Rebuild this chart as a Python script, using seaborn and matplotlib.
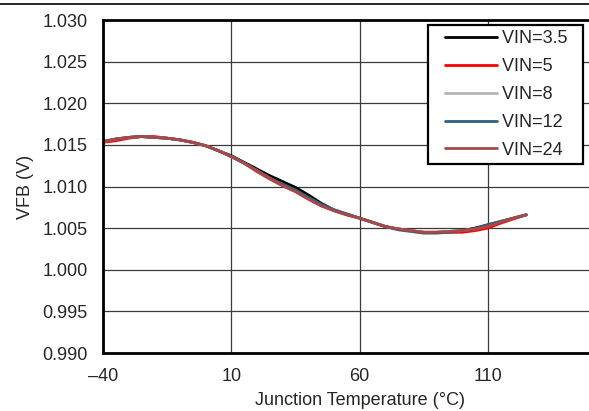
import seaborn as sns
import matplotlib.pyplot as plt
import pandas as pd
from matplotlib.lines import Line2D
from matplotlib.legend_handler import HandlerLine2D

# junction temperature (C)
temps = [-40, -35, -30, -25, -20, -15, -10, -5, 0, 5, 10, 15, 20, 25, 30, 35, 40, 45,
         50, 55, 60, 65, 70, 75, 80, 85, 90, 95, 100, 105, 110, 115, 120, 125]

# VFB (V) per input voltage
vin_3p5 = [1.0154, 1.0157, 1.0159, 1.0160, 1.0159, 1.0158, 1.0156, 1.0153, 1.0149, 1.0143,
           1.0137, 1.0129, 1.0121, 1.0113, 1.0106, 1.0099, 1.0090, 1.0080, 1.0072, 1.0067,
           1.0062, 1.0057, 1.0052, 1.0049, 1.0047, 1.0045, 1.0045, 1.0046, 1.0047, 1.0050,
           1.0054, 1.0058, 1.0062, 1.0066]
vin_5 = [1.0153, 1.0155, 1.0158, 1.0160, 1.0160, 1.0158, 1.0156, 1.0153, 1.0149, 1.0143,
         1.0136, 1.0128, 1.0118, 1.0109, 1.0101, 1.0094, 1.0085, 1.0077, 1.0071, 1.0066,
         1.0062, 1.0057, 1.0052, 1.0049, 1.0047, 1.0045, 1.0045, 1.0045, 1.0045, 1.0047,
         1.0050, 1.0056, 1.0061, 1.0066]
vin_8 = [1.0154, 1.0157, 1.0159, 1.0160, 1.0159, 1.0158, 1.0156, 1.0153, 1.0149, 1.0143,
         1.0136, 1.0128, 1.0119, 1.0110, 1.0102, 1.0095, 1.0086, 1.0078, 1.0072, 1.0067,
         1.0062, 1.0057, 1.0052, 1.0049, 1.0047, 1.0045, 1.0045, 1.0046, 1.0047, 1.0049,
         1.0053, 1.0058, 1.0062, 1.0066]
vin_12 = [1.0154, 1.0157, 1.0159, 1.0160, 1.0159, 1.0158, 1.0156, 1.0153, 1.0149, 1.0143,
          1.0136, 1.0128, 1.0119, 1.0110, 1.0103, 1.0096, 1.0087, 1.0079, 1.0072, 1.0067,
          1.0062, 1.0057, 1.0052, 1.0048, 1.0046, 1.0044, 1.0044, 1.0045, 1.0047, 1.0049,
          1.0054, 1.0058, 1.0062, 1.0066]
vin_24 = [1.0154, 1.0157, 1.0159, 1.0160, 1.0159, 1.0158, 1.0156, 1.0153, 1.0149, 1.0143,
          1.0136, 1.0128, 1.0119, 1.0110, 1.0101, 1.0094, 1.0085, 1.0077, 1.0071, 1.0066,
          1.0062, 1.0057, 1.0052, 1.0049, 1.0047, 1.0045, 1.0045, 1.0046, 1.0047, 1.0049,
          1.0052, 1.0057, 1.0062, 1.0066]

series_names = ['VIN=3.5', 'VIN=5', 'VIN=8', 'VIN=12', 'VIN=24']
colors = ['#000000', '#FF0000', '#B4B4B4', '#2E6080', '#A84848']

x_ticks = [-40, 10, 60, 110, 160]
x_labels = ['\u201340', '10', '60', '110', '']
y_ticks = [0.990, 0.995, 1.000, 1.005, 1.010, 1.015, 1.020, 1.025, 1.030]

frames = []
for name, vals in zip(series_names, [vin_3p5, vin_5, vin_8, vin_12, vin_24]):
    frames.append(pd.DataFrame({'temp': temps, 'vfb': vals, 'series': name}))
df = pd.concat(frames, ignore_index=True)

sns.set_style('white')
plt.rcParams['font.family'] = ['Liberation Sans', 'DejaVu Sans']

fig = plt.figure(figsize=(5.89, 4.11), dpi=100)
ax = fig.add_axes([0.1749, 0.1411, 0.871, 0.8102])

sns.lineplot(data=df, x='temp', y='vfb', hue='series', hue_order=series_names,
             palette=colors, linewidth=2, ax=ax, sort=False)

ax.set_xlim(-40, 160)
ax.set_ylim(0.990, 1.030)
ax.set_xticks(x_ticks)
ax.set_xticklabels(x_labels)
ax.set_yticks(y_ticks)
ax.set_yticklabels([f'{v:.3f}' for v in y_ticks])
ax.tick_params(length=0, labelsize=13, pad=11)
ax.grid(True, color='#3a3a3a', linewidth=0.9)
ax.set_axisbelow(True)

for side in ['left', 'bottom', 'top']:
    ax.spines[side].set_linewidth(2)
    ax.spines[side].set_color('black')
ax.spines['right'].set_visible(False)

ax.set_xlabel('Junction Temperature (\u00b0C)', fontsize=13, labelpad=5)
ax.set_ylabel('VFB (V)', fontsize=13, labelpad=6)

handles, labels = ax.get_legend_handles_labels()
leg = ax.legend(handles, [l + '  ' for l in labels],
                loc='upper right', bbox_to_anchor=(0.9357, 0.985), fontsize=13,
                frameon=True, fancybox=False, handlelength=3.5, handletextpad=0.28,
                borderpad=0.3, labelspacing=0.6, borderaxespad=0,
                handler_map={Line2D: HandlerLine2D(xpad=0.6)})
leg.get_frame().set_edgecolor('black')
leg.get_frame().set_linewidth(1.6)
leg.get_frame().set_alpha(1)

fig.add_artist(Line2D([0, 1], [0.990, 0.990], color='black', linewidth=1.2,
                      transform=fig.transFigure))

fig.savefig('out.png', dpi=100)
